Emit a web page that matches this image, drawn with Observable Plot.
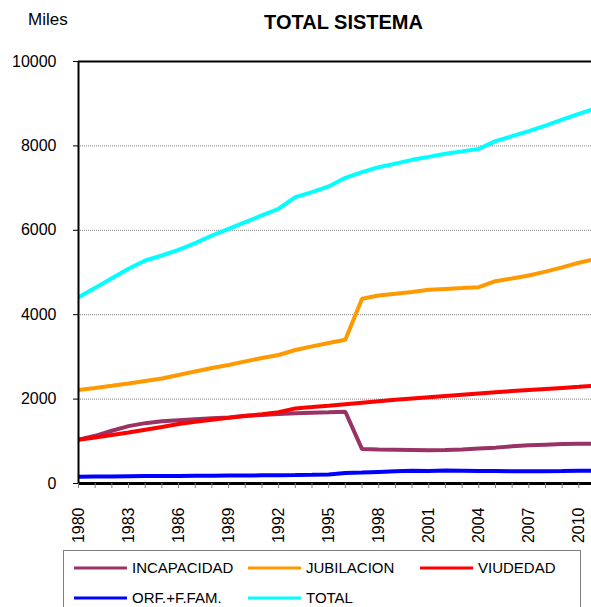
<!DOCTYPE html>
<html>
<head>
<meta charset="utf-8">
<script src="https://cdn.jsdelivr.net/npm/d3@7"></script>
<script src="https://cdn.jsdelivr.net/npm/@observablehq/plot@0.6"></script>
<style>
  html, body { margin: 0; padding: 0; background: #fff; overflow: hidden; }
  #wrap { position: relative; width: 591px; height: 607px; font-family: "Liberation Sans", Arial, sans-serif; color: #000; }
  #title { position: absolute; left: 0; width: 591px; top: 11px; padding-left: 96px; box-sizing: border-box; text-align: center; font-weight: bold; font-size: 20px; line-height: 22px; }
  #miles { position: absolute; left: 28px; top: 9px; font-size: 17px; line-height: 22px; }
  #chart { position: absolute; left: 0; top: 0; }
  #legend { position: absolute; left: 63px; top: 550px; width: 518px; height: 80px; border: 1px solid #808080; box-sizing: border-box; }
  .item { position: absolute; height: 20px; font-size: 15px; line-height: 20px; white-space: nowrap; }
  .item svg { position: absolute; left: 0; top: 8px; }
  .item span { position: absolute; left: 58px; top: 0; }
</style>
</head>
<body>
<div id="wrap">
  <div id="miles">Miles</div>
  <div id="title">TOTAL SISTEMA</div>
  <div id="chart"></div>
  <div id="legend"></div>
</div>
<script>
const years = [1980,1981,1982,1983,1984,1985,1986,1987,1988,1989,1990,1991,1992,1993,1994,1995,1996,1997,1998,1999,2000,2001,2002,2003,2004,2005,2006,2007,2008,2009,2010,2011];
const labelYears = [1980,1983,1986,1989,1992,1995,1998,2001,2004,2007,2010];
const yTicks = [0,2000,4000,6000,8000,10000];
const gridTicks = [2000,4000,6000,8000];

const incapacidad = [1040,1130,1250,1360,1430,1475,1500,1525,1545,1565,1605,1625,1645,1665,1678,1688,1700,815,805,800,795,790,795,805,830,850,880,905,920,935,940,945];
const jubilacion  = [2215,2265,2317,2370,2430,2490,2570,2656,2736,2807,2893,2974,3045,3163,3249,3329,3408,4376,4455,4494,4540,4589,4610,4630,4652,4794,4860,4929,5020,5120,5230,5320];
const viudedad    = [1036,1090,1150,1210,1275,1340,1408,1460,1510,1555,1600,1640,1690,1780,1810,1843,1880,1915,1950,1985,2015,2045,2075,2105,2135,2165,2190,2215,2240,2265,2290,2320];
const orf         = [160,165,168,172,175,178,180,183,185,188,190,193,196,200,205,215,250,260,275,290,300,295,310,305,298,295,292,290,292,295,300,305];
const total       = [4413,4636,4864,5087,5284,5403,5538,5695,5877,6036,6193,6352,6511,6786,6905,7040,7243,7377,7496,7580,7670,7740,7812,7870,7930,8112,8230,8349,8480,8620,8760,8890];

const seriesNames  = ["INCAPACIDAD","JUBILACION","VIUDEDAD","ORF.+F.FAM.","TOTAL"];
const seriesValues = [incapacidad, jubilacion, viudedad, orf, total];
const seriesColors = ["#993366","#FF9900","#FF0000","#0000FF","#00FFFF"];

const lineMarks = seriesNames.map((name, i) => {
  const rows = years.map((yr, j) => ({year: yr, value: seriesValues[i][j]}));
  return Plot.line(rows, {x: "year", y: "value", stroke: seriesColors[i], strokeWidth: 4, clip: true, strokeLinejoin: "miter"});
});

const chart = Plot.plot({
  width: 591,
  height: 548,
  marginTop: 61,
  marginBottom: 65,
  marginLeft: 78,
  marginRight: 0,
  style: {fontFamily: "'Liberation Sans', Arial, sans-serif", fontSize: "16px", color: "#000", background: "transparent", overflow: "visible"},
  x: {type: "linear", domain: [1980, 2010.76]},
  y: {domain: [0, 10000]},
  marks: [
    Plot.ruleY(gridTicks, {stroke: "#808080", strokeWidth: 1, strokeDasharray: "1,1"}),
    ...lineMarks,
    Plot.ruleY([10000], {stroke: "#000", strokeWidth: 2}),
    Plot.ruleX([1980], {stroke: "#000", strokeWidth: 2}),
    Plot.ruleY([0], {stroke: "#000", strokeWidth: 3}),
    Plot.axisY({ticks: yTicks, tickSize: 5, tickPadding: 17, tickFormat: d => String(d), label: null, fontSize: 16}),
    Plot.axisX({ticks: years, tickSize: 5, tickFormat: () => "", label: null, stroke: "#808080"}),
    Plot.axisX({ticks: labelYears, tickSize: 0, tickPadding: 24, tickRotate: -90, tickFormat: d => String(d), label: null, fontSize: 16})
  ]
});
document.getElementById("chart").appendChild(chart);

// legend
const legendPos = [[10, 7], [184, 7], [356, 7], [10, 37], [184, 37]];
const legend = document.getElementById("legend");
seriesNames.forEach((name, i) => {
  const d = document.createElement("div");
  d.className = "item";
  d.style.left = legendPos[i][0] + "px";
  d.style.top = legendPos[i][1] + "px";
  d.innerHTML = `<svg width="54" height="4"><line x1="0" y1="2" x2="53" y2="2" stroke="${seriesColors[i]}" stroke-width="3"/></svg><span>${name}</span>`;
  legend.appendChild(d);
});
</script>
</body>
</html>
